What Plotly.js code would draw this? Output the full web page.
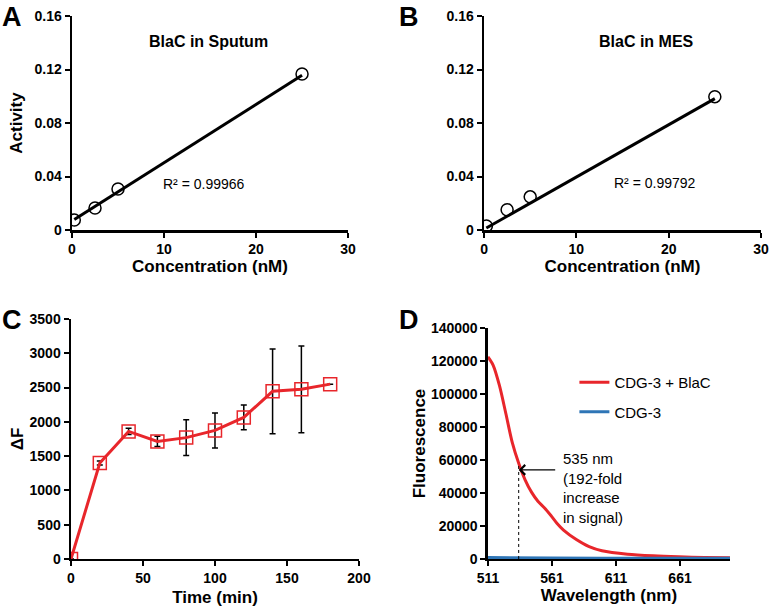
<!DOCTYPE html>
<html>
<head>
<meta charset="utf-8">
<script src="https://cdn.plot.ly/plotly-3.0.1.min.js"></script>
<style>
  body { margin: 0; background: #fff; }
  #fig { width: 771px; height: 615px; }
</style>
</head>
<body>
<div id="fig"></div>
<script>
// Panel A - BlaC in sputum
var concA = [0.25, 2.5, 5, 25];
var activityA = [0.0075, 0.0164, 0.0306, 0.1166];
var trendXA = [0.25, 25];
var trendYA = [0.0078, 0.1157];

// Panel B - BlaC in MES
var concB = [0.25, 2.5, 5, 25];
var activityB = [0.003, 0.0152, 0.0248, 0.0997];
var trendXB = [0.25, 25];
var trendYB = [0.0015, 0.0982];

// Panel C - time course
var timeC = [0, 20, 40, 60, 80, 100, 120, 140, 160, 180];
var deltaF = [0, 1400, 1860, 1715, 1770, 1875, 2065, 2445, 2475, 2550];
var deltaErr = [0, 30, 45, 75, 262, 255, 182, 618, 633, 0];

// Panel D - emission spectra
var wavelength = [511, 515, 520, 525, 530, 535, 540, 545, 550, 555, 560, 565, 570, 580, 590, 600, 620, 640, 660, 680, 700];
var cdg3BlaC = [122500, 117500, 105000, 88000, 70500, 58000, 48000, 40500, 35000, 31000, 26500, 21500, 17500, 11800, 7500, 5000, 2900, 1900, 1300, 900, 700];
var wlBlue = [511, 530, 560, 600, 700];
var cdg3 = [900, 700, 600, 500, 500];

// tick labels
var concTicks = [0, 10, 20, 30];
var activityTicks = [0, 0.04, 0.08, 0.12, 0.16];
var activityLabels = ["0", "0.04", "0.08", "0.12", "0.16"];
var timeTicks = [0, 50, 100, 150, 200];
var dfTicks = [0, 500, 1000, 1500, 2000, 2500, 3000, 3500];
var wlTicks = [511, 561, 611, 661];
var fluoTicks = [0, 20000, 40000, 60000, 80000, 100000, 120000, 140000];

var red = "#E8262B";
var blue = "#2E75B6";
var fam = "Liberation Sans, Arial, sans-serif";

function axisStyle(extra) {
    var base = {
        showline: true, linecolor: "#000", linewidth: 2.5,
        showgrid: false, zeroline: false,
        ticks: "outside", ticklen: 5, tickwidth: 2, tickcolor: "#000",
        tickmode: "array",
        tickfont: { family: fam, size: 14, color: "#000", weight: "bold" },
        fixedrange: true
    };
    for (var k in extra) base[k] = extra[k];
    return base;
}

function axTitle(txt, standoff) {
    return { text: "<b>" + txt + "</b>", standoff: standoff,
             font: { family: fam, size: 17, color: "#000" } };
}

var traces = [
    { x: trendXA, y: trendYA, xaxis: "x", yaxis: "y", mode: "lines",
      line: { color: "#000", width: 3 }, showlegend: false, hoverinfo: "skip" },
    { x: concA, y: activityA, xaxis: "x", yaxis: "y", mode: "markers",
      marker: { symbol: "circle-open", size: 12, color: "#000", line: { width: 1.5 } }, showlegend: false },

    { x: trendXB, y: trendYB, xaxis: "x2", yaxis: "y2", mode: "lines",
      line: { color: "#000", width: 3 }, showlegend: false, hoverinfo: "skip" },
    { x: concB, y: activityB, xaxis: "x2", yaxis: "y2", mode: "markers",
      marker: { symbol: "circle-open", size: 12, color: "#000", line: { width: 1.5 } }, showlegend: false },

    { x: timeC, y: deltaF, xaxis: "x3", yaxis: "y3", mode: "lines+markers",
      line: { color: red, width: 3 },
      marker: { symbol: "square-open", size: 13, color: red, line: { width: 1.5 } },
      error_y: { type: "data", array: deltaErr, visible: true, color: "#000", thickness: 1.5, width: 3 },
      showlegend: false },

    { x: wavelength, y: cdg3BlaC, xaxis: "x4", yaxis: "y4", mode: "lines", name: "CDG-3 + BlaC",
      legendgroup: "a", line: { color: red, width: 3, shape: "spline", smoothing: 0.8 } },
    { x: wlBlue, y: cdg3, xaxis: "x4", yaxis: "y4", mode: "lines", name: "CDG-3",
      legendgroup: "b", line: { color: blue, width: 3 } }
];

var layout = {
    width: 771, height: 615,
    margin: { l: 0, r: 0, t: 0, b: 0 },
    paper_bgcolor: "#fff", plot_bgcolor: "#fff",
    font: { family: fam, color: "#000" },
    showlegend: true,
    legend: { x: 0.745, y: 0.405, xanchor: "left", yanchor: "top", tracegroupgap: 7,
              bgcolor: "rgba(0,0,0,0)", font: { family: fam, size: 15, color: "#000" } },

    xaxis: axisStyle({ domain: [0.0934, 0.4514], anchor: "y", range: [0, 30],
                       tickvals: concTicks, ticktext: concTicks,
                       title: axTitle("Concentration (nM)", 4) }),
    yaxis: axisStyle({ domain: [0.626, 0.974], anchor: "x", range: [0, 0.16],
                       tickvals: activityTicks, ticktext: activityLabels,
                       title: axTitle("Activity", 8) }),

    xaxis2: axisStyle({ domain: [0.6278, 0.987], anchor: "y2", range: [0, 30],
                        tickvals: concTicks, ticktext: concTicks,
                        title: axTitle("Concentration (nM)", 4) }),
    yaxis2: axisStyle({ domain: [0.626, 0.974], anchor: "x2", range: [0, 0.16],
                        tickvals: activityTicks, ticktext: activityLabels }),

    xaxis3: axisStyle({ domain: [0.0921, 0.4656], anchor: "y3", range: [0, 200],
                        tickvals: timeTicks, ticktext: timeTicks,
                        title: axTitle("Time (min)", 6) }),
    yaxis3: axisStyle({ domain: [0.0911, 0.4813], anchor: "x3", range: [0, 3500],
                        tickvals: dfTicks, ticktext: dfTicks,
                        title: axTitle("ΔF", 2) }),

    xaxis4: axisStyle({ domain: [0.6329, 0.9468], anchor: "y4", range: [511, 700],
                        tickvals: wlTicks, ticktext: wlTicks,
                        title: axTitle("Wavelength (nm)", 4) }),
    yaxis4: axisStyle({ domain: [0.0911, 0.4667], anchor: "x4", range: [0, 140000],
                        tickvals: fluoTicks, ticktext: fluoTicks,
                        title: axTitle("Fluorescence", 1) }),

    shapes: [
        { type: "line", xref: "x4", yref: "y4", x0: 535, x1: 535, y0: 0, y1: 57000,
          line: { color: "#000", width: 1, dash: "dot" } }
    ],

    annotations: [
        { text: "<b>A</b>", xref: "paper", yref: "paper", x: 0.0, y: 1.0, xanchor: "left", yanchor: "top",
          showarrow: false, font: { family: fam, size: 27, color: "#000" } },
        { text: "<b>B</b>", xref: "paper", yref: "paper", x: 0.515, y: 1.0, xanchor: "left", yanchor: "top",
          showarrow: false, font: { family: fam, size: 27, color: "#000" } },
        { text: "<b>C</b>", xref: "paper", yref: "paper", x: 0.0, y: 0.508, xanchor: "left", yanchor: "top",
          showarrow: false, font: { family: fam, size: 27, color: "#000" } },
        { text: "<b>D</b>", xref: "paper", yref: "paper", x: 0.515, y: 0.508, xanchor: "left", yanchor: "top",
          showarrow: false, font: { family: fam, size: 27, color: "#000" } },

        { text: "<b>BlaC in Sputum</b>", xref: "paper", yref: "paper", x: 0.271, y: 0.932,
          xanchor: "center", yanchor: "middle",
          showarrow: false, font: { family: fam, size: 16, color: "#000" } },
        { text: "<b>BlaC in MES</b>", xref: "paper", yref: "paper", x: 0.839, y: 0.932,
          xanchor: "center", yanchor: "middle",
          showarrow: false, font: { family: fam, size: 16, color: "#000" } },

        { text: "R² = 0.99966", xref: "x", yref: "y", x: 14.3, y: 0.0345,
          showarrow: false, font: { family: fam, size: 14, color: "#000" } },
        { text: "R² = 0.99792", xref: "x2", yref: "y2", x: 18.5, y: 0.0355,
          showarrow: false, font: { family: fam, size: 14, color: "#000" } },

        { text: "", xref: "x4", yref: "y4", x: 535, y: 54000, ax: 38, ay: 0,
          showarrow: true, arrowhead: 4, arrowsize: 1.6, arrowwidth: 1.2, arrowcolor: "#000" },
        { text: "535 nm<br>(192-fold<br>increase<br>in signal)", xref: "paper", yref: "paper",
          x: 0.727, y: 0.272, xanchor: "left", yanchor: "top", align: "left",
          showarrow: false, font: { family: fam, size: 15, color: "#000" } }
    ]
};

// make tick labels heavy like the original figure
function boldTicks() {
    var labels = document.querySelectorAll("#fig g[class$='tick'] text");
    labels.forEach(function (t) {
        t.style.setProperty("font-weight", "700", "important");
        t.setAttribute("font-weight", "700");
    });
}

Plotly.newPlot("fig", traces, layout, { displayModeBar: false, staticPlot: true }).then(boldTicks);
</script>
</body>
</html>
